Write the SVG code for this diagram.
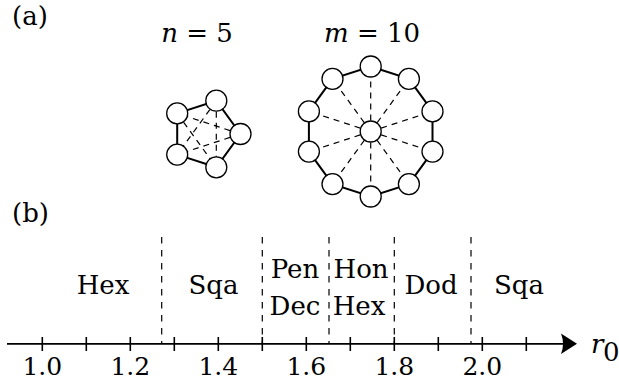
<svg xmlns="http://www.w3.org/2000/svg" width="619" height="381" viewBox="0 0 619 381">
<style>
text{font-family:'DejaVu Serif',serif;font-size:26px;fill:#000}
.it{font-style:italic}
.c{text-anchor:middle}
.lab{font-size:25px}
.node{fill:#fff;stroke:#000;stroke-width:1.3}
.solid{stroke:#000;stroke-width:2;fill:none}
.dash{stroke:#000;stroke-width:1.2;stroke-dasharray:6,5;fill:none}
.vdash{stroke:#000;stroke-width:1.2;stroke-dasharray:6.5,6.5;fill:none}
.tick{stroke:#000;stroke-width:1.6}
</style>
<rect width="619" height="381" fill="#fff"/>
<text x="12" y="25">(a)</text>
<text x="12" y="222">(b)</text>
<text x="197" y="42" class="c"><tspan class="it">n</tspan> = 5</text>
<text x="372" y="42" class="c"><tspan class="it">m</tspan> = 10</text>

<g id="connectors">
  <polygon class="solid" points="240.5,134 216.3,100.7 177.2,113.4 177.2,154.6 216.3,167.3"/>
  <path class="dash" d="M240.5,134L177.2,113.4M240.5,134L177.2,154.6M216.3,100.7L177.2,154.6M216.3,100.7L216.3,167.3M177.2,113.4L216.3,167.3"/>
  <polygon class="solid" points="370.7,66.5 408.9,78.9 432.5,111.4 432.5,151.6 408.9,184.1 370.7,196.5 332.5,184.1 308.9,151.6 308.9,111.4 332.5,78.9"/>
  <path class="dash" d="M370.7,131.5L370.7,66.5M370.7,131.5L408.9,78.9M370.7,131.5L432.5,111.4M370.7,131.5L432.5,151.6M370.7,131.5L408.9,184.1M370.7,131.5L370.7,196.5M370.7,131.5L332.5,184.1M370.7,131.5L308.9,151.6M370.7,131.5L308.9,111.4M370.7,131.5L332.5,78.9"/>
</g>

<g id="pentagon-nodes">
  <g id="p1"><circle class="node" cx="240.5" cy="134" r="10.5"/></g>
  <g id="p2"><circle class="node" cx="216.3" cy="100.7" r="10.5"/></g>
  <g id="p3"><circle class="node" cx="177.2" cy="113.4" r="10.5"/></g>
  <g id="p4"><circle class="node" cx="177.2" cy="154.6" r="10.5"/></g>
  <g id="p5"><circle class="node" cx="216.3" cy="167.3" r="10.5"/></g>
</g>
<g id="decagon-nodes">
  <g id="d0"><circle class="node" cx="370.7" cy="131.5" r="10.5"/></g>
  <g id="d1"><circle class="node" cx="370.7" cy="66.5" r="10.5"/></g>
  <g id="d2"><circle class="node" cx="408.9" cy="78.9" r="10.5"/></g>
  <g id="d3"><circle class="node" cx="432.5" cy="111.4" r="10.5"/></g>
  <g id="d4"><circle class="node" cx="432.5" cy="151.6" r="10.5"/></g>
  <g id="d5"><circle class="node" cx="408.9" cy="184.1" r="10.5"/></g>
  <g id="d6"><circle class="node" cx="370.7" cy="196.5" r="10.5"/></g>
  <g id="d7"><circle class="node" cx="332.5" cy="184.1" r="10.5"/></g>
  <g id="d8"><circle class="node" cx="308.9" cy="151.6" r="10.5"/></g>
  <g id="d9"><circle class="node" cx="308.9" cy="111.4" r="10.5"/></g>
  <g id="d10"><circle class="node" cx="332.5" cy="78.9" r="10.5"/></g>
</g>

<g id="boundaries">
  <path class="vdash" d="M161.7,237V344M262.3,237V344M329,237V344M394.3,237V344M471,237V344"/>
</g>

<g id="regions">
  <text x="103" y="294" class="c">Hex</text>
  <text x="213.5" y="294" class="c">Sqa</text>
  <text x="295" y="278" class="c">Pen</text>
  <text x="295" y="315" class="c">Dec</text>
  <text x="361" y="278" class="c">Hon</text>
  <text x="359" y="315" class="c">Hex</text>
  <text x="431" y="294" class="c">Dod</text>
  <text x="519" y="294" class="c">Sqa</text>
</g>

<g id="axis">
  <line x1="7" y1="343.8" x2="566" y2="343.8" stroke="#000" stroke-width="1.8"/>
  <path d="M577,343.8 L561,333.5 Q565,343.8 561,354.1 Z" fill="#000"/>
  <path class="tick" d="M42.3,337V351M86.3,337V351M130.3,337V351M174.3,337V351M218.3,337V351M262.3,337V351M306.3,337V351M350.3,337V351M394.3,337V351M438.3,337V351M482.3,337V351M526.3,337V351"/>
  <text x="42.3" y="375" class="c lab">1.0</text>
  <text x="130.3" y="375" class="c lab">1.2</text>
  <text x="218.3" y="375" class="c lab">1.4</text>
  <text x="306.3" y="375" class="c lab">1.6</text>
  <text x="394.3" y="375" class="c lab">1.8</text>
  <text x="482.3" y="375" class="c lab">2.0</text>
  <text x="591" y="353" class="it">r</text>
  <text x="603" y="361" font-size="16">0</text>
</g>
</svg>
